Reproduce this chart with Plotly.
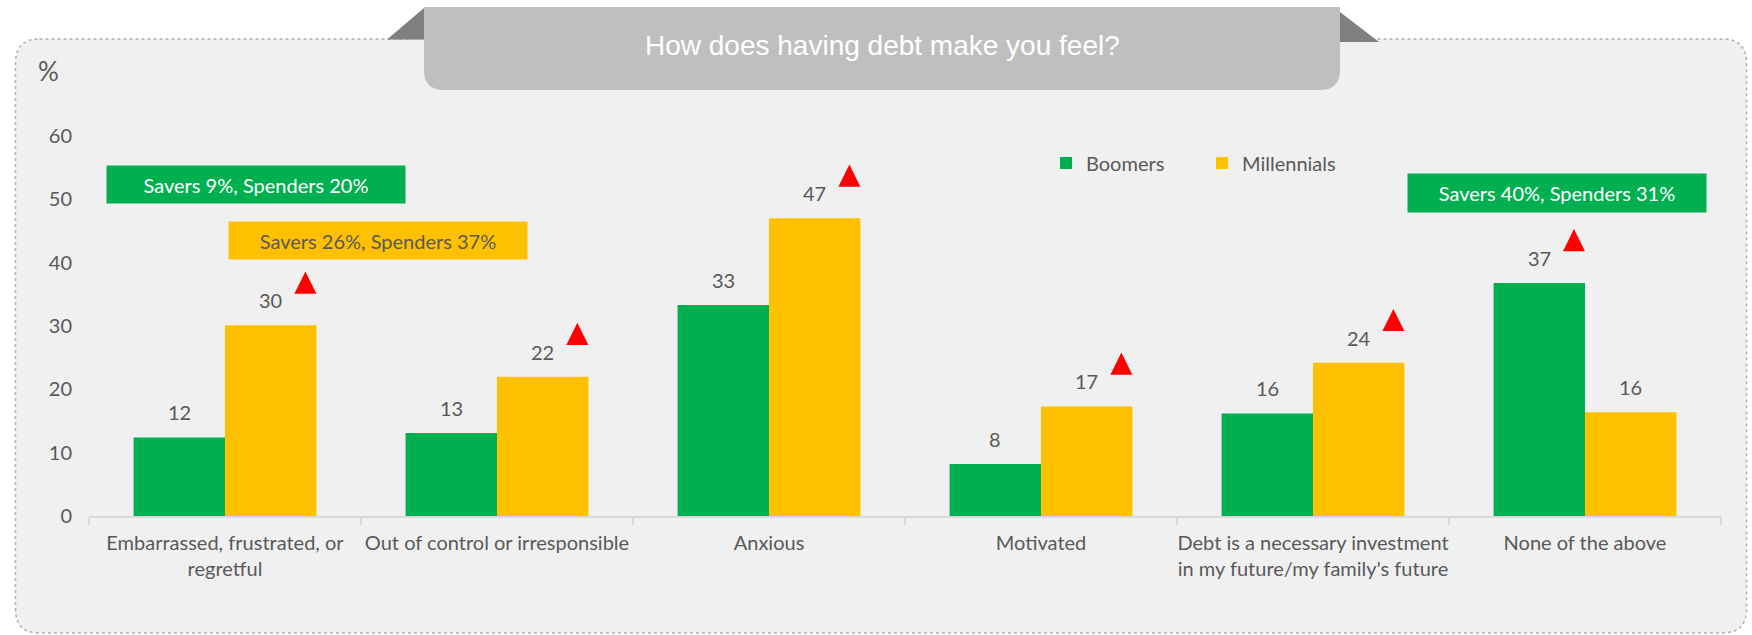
import plotly.graph_objects as go

# ---- data -------------------------------------------------------------
categories = [
    "Embarrassed, frustrated, or<br>regretful",
    "Out of control or irresponsible",
    "Anxious",
    "Motivated",
    "Debt is a necessary investment<br>in my future/my family's future",
    "None of the above",
]
boomers = [12.4, 13.1, 33.3, 8.2, 16.2, 36.8]
millennials = [30.1, 22.0, 47.0, 17.3, 24.2, 16.4]
# series flagged as significantly higher (red triangle) in each category
significant = ["Millennials", "Millennials", "Millennials", "Millennials", "Millennials", "Boomers"]

callouts = [
    ("Savers 9%, Spenders 20%", "Boomers"),
    ("Savers 26%, Spenders 37%", "Millennials"),
    ("Savers 40%, Spenders 31%", "Boomers"),
]
title_text = "How does having debt make you feel?"
y_ticks = [0, 10, 20, 30, 40, 50, 60]

# ---- style ------------------------------------------------------------
GREEN = "#00b050"
YELLOW = "#ffc000"
TEXT = "#595959"
FONT = "Lato"
W, H = 1752, 635
PL, PR, PT, PB = 89, 1721, 136, 516
BAR_W = 0.336  # width of one bar in category units

def fx(x):
    return (x - PL) / (PR - PL)

def fy(y):
    return (PB - y) / (PB - PT)

def rounded_path(x0, y0, x1, y1, r_tl, r_tr, r_br, r_bl):
    """Closed rectangle path in paper units, corners given in pixels."""
    pts = []
    pts.append(f"M{fx(x0 + r_tl)},{fy(y0)}")
    pts.append(f"L{fx(x1 - r_tr)},{fy(y0)}")
    if r_tr:
        pts.append(f"Q{fx(x1)},{fy(y0)} {fx(x1)},{fy(y0 + r_tr)}")
    pts.append(f"L{fx(x1)},{fy(y1 - r_br)}")
    if r_br:
        pts.append(f"Q{fx(x1)},{fy(y1)} {fx(x1 - r_br)},{fy(y1)}")
    pts.append(f"L{fx(x0 + r_bl)},{fy(y1)}")
    if r_bl:
        pts.append(f"Q{fx(x0)},{fy(y1)} {fx(x0)},{fy(y1 - r_bl)}")
    pts.append(f"L{fx(x0)},{fy(y0 + r_tl)}")
    if r_tl:
        pts.append(f"Q{fx(x0)},{fy(y0)} {fx(x0 + r_tl)},{fy(y0)}")
    pts.append("Z")
    return " ".join(pts)

def poly_path(points):
    return "M" + " L".join(f"{fx(x)},{fy(y)}" for x, y in points) + " Z"

xs = list(range(len(categories)))

fig = go.Figure()
fig.add_trace(go.Bar(name="Boomers", x=xs, y=boomers, marker=dict(color=GREEN, line=dict(width=0))))
fig.add_trace(go.Bar(name="Millennials", x=xs, y=millennials, marker=dict(color=YELLOW, line=dict(width=0))))

# red triangles marking the significantly higher bar
tri_w, tri_gap, tri_h = 0.081, 5.0, 3.5
tx, ty = [], []
for i, who in enumerate(significant):
    val = millennials[i] if who == "Millennials" else boomers[i]
    right = i + (BAR_W if who == "Millennials" else 0.0)
    base = val + tri_gap
    tx += [right - tri_w, right, right - tri_w / 2, right - tri_w, None]
    ty += [base, base, base + tri_h, base, None]
fig.add_trace(go.Scatter(x=tx, y=ty, mode="lines", fill="toself", fillcolor="#ff0000",
                         line=dict(width=0, color="#ff0000"), showlegend=False, hoverinfo="skip"))

annotations = []
# value labels above each bar
for i in xs:
    for off, v in ((-BAR_W / 2, boomers[i]), (BAR_W / 2, millennials[i])):
        annotations.append(dict(x=i + off, y=v, xref="x", yref="y", text=f"{v:.0f}",
                                showarrow=False, xanchor="center", yanchor="bottom", yshift=11,
                                font=dict(family=FONT, size=20, color=TEXT)))

# savers / spenders callout boxes
callout_boxes = [(107, 166, 405, 203), (229, 222, 527, 259), (1408, 174, 1706, 212)]
for (label, who), (x0, y0, x1, y1) in zip(callouts, callout_boxes):
    annotations.append(dict(
        x=fx((x0 + x1) / 2), y=fy((y0 + y1) / 2), xref="paper", yref="paper",
        xanchor="center", yanchor="middle",
        text=label, showarrow=False, width=x1 - x0, height=y1 - y0, borderpad=0,
        bgcolor=GREEN if who == "Boomers" else YELLOW,
        font=dict(family=FONT, size=20, color="white" if who == "Boomers" else TEXT)))

# unit label and title
annotations.append(dict(x=fx(48), y=fy(71), xref="paper", yref="paper", text="%",
                        xanchor="center", yanchor="middle",
                        showarrow=False, font=dict(family=FONT, size=26, color=TEXT)))
annotations.append(dict(x=fx(882), y=fy(46), xref="paper", yref="paper", text=title_text,
                        xanchor="center", yanchor="middle",
                        showarrow=False, font=dict(family="Liberation Sans, Arial", size=28, color="white")))

shapes = [
    # outer rounded panel
    dict(type="path", xref="paper", yref="paper", layer="below",
         path=rounded_path(15.5, 39, 1746.5, 633, 24, 24, 24, 24),
         fillcolor="#f0f0f0", line=dict(color="#b0b0b0", width=1.5, dash="dot")),
    # folded corners of the title tab
    dict(type="path", xref="paper", yref="paper", layer="below",
         path=poly_path([(387, 39.5), (424, 8), (424, 39.5)]), fillcolor="#7f7f7f", line=dict(width=0)),
    dict(type="path", xref="paper", yref="paper", layer="below",
         path=poly_path([(1340, 12), (1379, 42), (1340, 42)]), fillcolor="#7f7f7f", line=dict(width=0)),
    # title tab
    dict(type="path", xref="paper", yref="paper", layer="below",
         path=rounded_path(424, 7, 1340, 90, 0, 0, 20, 20), fillcolor="#bfbfbf", line=dict(width=0)),
]

fig.update_layout(
    width=W, height=H,
    margin=dict(l=PL, r=W - PR, t=PT, b=H - PB, autoexpand=False),
    paper_bgcolor="white", plot_bgcolor="rgba(0,0,0,0)",
    barmode="group", bargap=0.328, bargroupgap=0,
    font=dict(family=FONT, size=20, color=TEXT),
    showlegend=True,
    legend=dict(orientation="h", xref="container", yref="container",
                x=1046 / W, y=1 - 163 / H, xanchor="left", yanchor="middle",
                bgcolor="rgba(0,0,0,0)", font=dict(family=FONT, size=20, color=TEXT),
                entrywidth=111, entrywidthmode="pixels", traceorder="normal"),
    annotations=annotations,
    shapes=shapes,
)
fig.update_xaxes(range=[-0.5, 5.5], tickmode="array", tickvals=xs, ticktext=categories,
                 ticks="", showgrid=False, zeroline=False,
                 showline=True, linecolor="#d9d9d9", linewidth=2,
                 minor=dict(tick0=-0.5, dtick=1, ticks="outside", ticklen=7,
                            tickcolor="#d9d9d9", tickwidth=2, showgrid=False),
                 ticklabelstandoff=8,
                 tickfont=dict(family=FONT, size=20, color=TEXT))
fig.update_yaxes(range=[0, 60], tickmode="array", tickvals=y_ticks, ticks="",
                 showgrid=False, zeroline=False, showline=False,
                 ticklabelstandoff=16,
                 tickfont=dict(family=FONT, size=20, color=TEXT))

fig.write_html("out.html")
